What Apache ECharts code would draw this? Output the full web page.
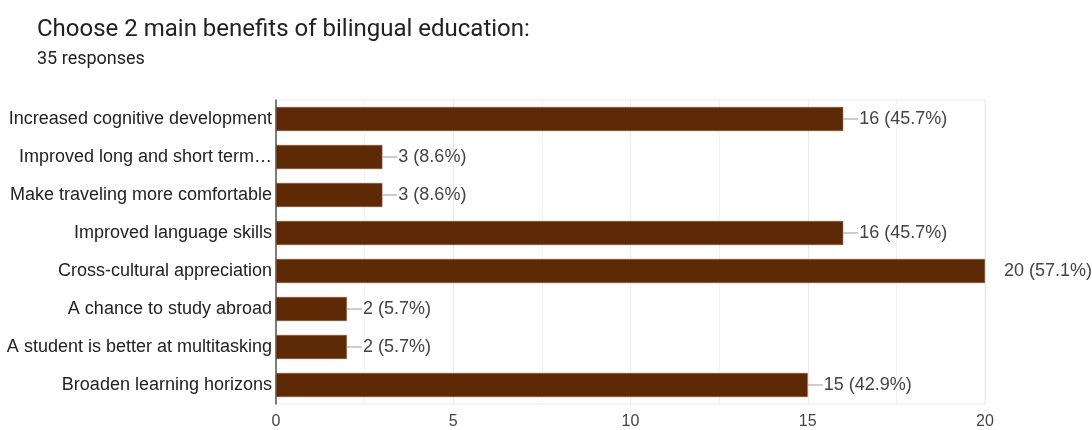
<!DOCTYPE html>
<html><head><meta charset="utf-8">
<script src="https://cdn.jsdelivr.net/npm/echarts@6/dist/echarts.min.js"></script>
<style>html,body{margin:0;padding:0;background:#fff}#c{width:1092px;height:430px}</style>
</head><body><div id="c"></div>
<script>
const categories = [
  'Increased cognitive development',
  'Improved long and short term…',
  'Make traveling more comfortable',
  'Improved language skills',
  'Cross-cultural appreciation',
  'A chance to study abroad',
  'A student is better at multitasking',
  'Broaden learning horizons'
];
const counts = [16, 3, 3, 16, 20, 2, 2, 15];
const percents = ['45.7%', '8.6%', '8.6%', '45.7%', '57.1%', '5.7%', '5.7%', '42.9%'];
const xTicks = [0, 5, 10, 15, 20];
const titleText = 'Choose 2 main benefits of bilingual education:';
const subtitleText = '35 responses';

const xMax = xTicks[xTicks.length - 1];
const chart = echarts.init(document.getElementById('c'));
chart.setOption({
  animation: false,
  title: {
    text: titleText,
    subtext: subtitleText,
    left: 32, top: 13,
    itemGap: 8,
    textStyle: {fontFamily: 'Roboto', fontSize: 24, fontWeight: 'normal', color: '#202124'},
    subtextStyle: {fontFamily: 'Roboto', fontSize: 18, color: '#202124'}
  },
  grid: {left: 276, right: 107, top: 100, bottom: 25, show: true, borderColor: '#ebebeb', borderWidth: 1},
  xAxis: {
    type: 'value', min: 0, max: xMax, interval: 5,
    axisLine: {show: false}, axisTick: {show: false},
    axisLabel: {margin: 10, fontFamily: 'Liberation Sans', fontSize: 16, color: '#444',
      formatter: v => xTicks.includes(v) ? String(v) : ''},
    splitLine: {lineStyle: {color: '#ebebeb'}},
    minorTick: {show: false, splitNumber: 2},
    minorSplitLine: {show: true, lineStyle: {color: '#f3f3f3'}}
  },
  yAxis: {
    type: 'category', data: categories, inverse: true,
    axisLine: {lineStyle: {color: '#555', width: 1.5}},
    axisTick: {show: false},
    axisLabel: {margin: 4, fontFamily: 'Liberation Sans', fontSize: 18, color: '#222'}
  },
  series: [{
    type: 'bar',
    data: counts,
    barWidth: 24,
    itemStyle: {color: '#5e2a05', borderColor: '#8a5a3a', borderWidth: 0.5},
    label: {
      show: true, position: 'right', distance: 0,
      formatter: p => (p.value >= xMax ? '{g|}' : '{l|}') + '{t|' + p.value + ' (' + percents[p.dataIndex] + ')}',
      rich: {
        l: {width: 15, height: 1, backgroundColor: '#9a9a9a'},
        g: {width: 18, height: 1},
        t: {fontFamily: 'Liberation Sans', fontSize: 18, color: '#444', padding: [0, 0, 0, 1]}
      }
    }
  }]
});
</script></body></html>
